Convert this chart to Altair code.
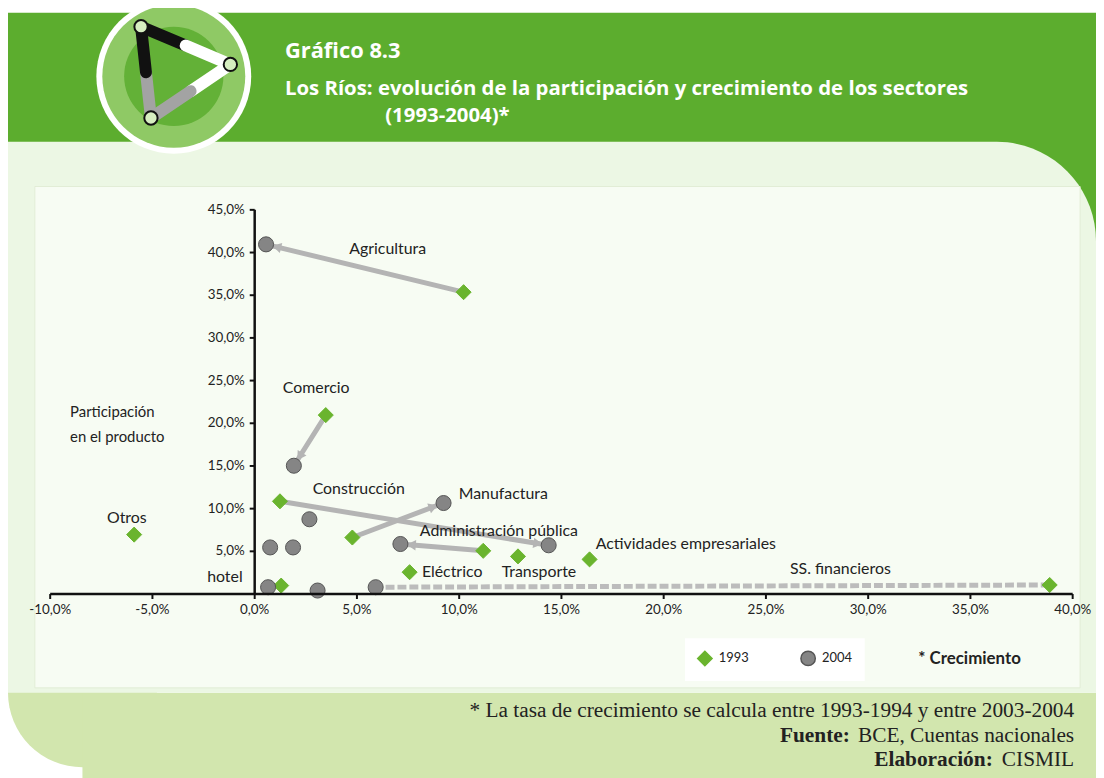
import math
import altair as alt
import pandas as pd

# ---------------- data ----------------
sectors = ["Agricultura", "Comercio", "Construcción", "Manufactura",
           "Administración pública", "Actividades empresariales", "Transporte",
           "Eléctrico", "SS. financieros", "Otros", "Hoteles"]
crec_1993 = [10.24, 3.5, 1.26, 4.8, 11.2, 16.4, 12.9, 7.6, 38.9, -5.87, 1.32]
part_1993 = [35.3, 20.9, 10.8, 6.56, 5.0, 4.0, 4.35, 2.5, 1.0, 6.9, 0.93]
crec_2004 = [0.58, 1.94, 14.4, 9.26, 7.15, 0.78, 1.9, 3.1, 5.94, 2.7, 0.68]
part_2004 = [40.9, 14.97, 5.65, 10.6, 5.8, 5.4, 5.4, 0.35, 0.74, 8.7, 0.74]

arrow_sectors = ["Agricultura", "Comercio", "Construcción", "Manufactura",
                 "Administración pública"]
dashed_sectors = ["SS. financieros"]

label_text = ["Agricultura", "Comercio", "Construcción", "Manufactura",
              "Administración pública", "Actividades empresariales", "Eléctrico",
              "Transporte", "SS. financieros", "Otros", "hotel"]
label_x = [4.65, 1.4, 2.86, 10.0, 8.1, 16.7, 8.2, 12.1, 26.2, -7.2, -2.3]
label_y = [40.3, 24.1, 12.2, 11.6, 7.3, 5.8, 2.5, 2.5, 2.9, 8.9, 1.95]

years = ["1993", "2004"]
x_ticks = [-10, -5, 0, 5, 10, 15, 20, 25, 30, 35, 40]
y_ticks = [5, 10, 15, 20, 25, 30, 35, 40, 45]

title_main = "Gráfico 8.3"
title_sub = "Los Ríos:  evolución de la participación y crecimiento de los sectores"
title_sub2 = "(1993-2004)*"
y_title = ["Participación", "en el producto"]
note_crec = "* Crecimiento"
foot_1 = "*  La tasa de crecimiento se calcula entre 1993-1994 y entre 2003-2004"
foot_2a, foot_2b = "Fuente:", "BCE, Cuentas nacionales"
foot_3a, foot_3b = "Elaboración:", "CISMIL"

# ---------------- styles ----------------
W, H = 1030, 387
X_DOM, Y_DOM = [-10, 40], [0, 45]
PX_X = W / (X_DOM[1] - X_DOM[0])
PX_Y = H / (Y_DOM[1] - Y_DOM[0])
GREEN = "#6ab42e"
GRAY = "#858585"
LINE_GRAY = "#b4b4b4"
BAND = "#5cad2e"
LIGHT = "#ecf7e4"
BOX = "#f7fcf3"
BOTTOM = "#d2e6ae"
FONT = "Lato"
HFONT = "Open Sans"
SERIF = "Liberation Serif"

xs = alt.Scale(domain=X_DOM, nice=False, zero=False)
ys = alt.Scale(domain=Y_DOM, nice=False, zero=False)
LBL = "replace(replace(format(datum.value, '.1f'), '.', ','), '\u2212', '-') + '%'"

xaxis = alt.Axis(values=x_ticks, labelExpr=LBL, title=None, grid=False, zindex=1,
                 domainColor="#111", domainWidth=2.5, tickColor="#111", tickWidth=2,
                 tickSize=5, labelFont=FONT, labelFontSize=13.5, labelColor="#222",
                 labelPadding=4, labelFlush=False)
yaxis = alt.Axis(values=y_ticks, labelExpr=LBL, title=y_title, titleAngle=0,
                 titleX=-186, titleY=197, titleAlign="left", titleBaseline="top",
                 titleFont=FONT, titleFontSize=15, titleFontWeight="normal",
                 titleColor="#222", titleLineHeight=25, offset=-206, grid=False,
                 zindex=1, domainColor="#111", domainWidth=2.5, tickColor="#111",
                 tickWidth=2, tickSize=5, labelFont=FONT, labelFontSize=13.5,
                 labelColor="#222", labelPadding=5)

one = pd.DataFrame({"k": [0]})


def rect(x, x2, y, y2, color, **kw):
    return alt.Chart(one).mark_rect(color=color, **kw).encode(
        x=alt.value(x), x2=alt.value(x2), y=alt.value(y), y2=alt.value(y2))


def dot(x, y, size, color, **kw):
    return alt.Chart(one).mark_point(shape="circle", filled=True, opacity=1,
                                     size=size, color=color, **kw).encode(
        x=alt.value(x), y=alt.value(y))


def seg(x, y, x2, y2, color, w=12):
    return alt.Chart(one).mark_rule(color=color, strokeWidth=w, strokeCap="round").encode(
        x=alt.value(x), y=alt.value(y), x2=alt.value(x2), y2=alt.value(y2))


def txt(s, x, y, **kw):
    return alt.Chart(one).mark_text(text=s, **kw).encode(x=alt.value(x), y=alt.value(y))


# ---------------- background / frame ----------------
bg = [
    rect(-42, 1054, -198, 52, BAND),
    dot(33, 487, 22500, BOTTOM),
    rect(33, 1054, 487, 600, BOTTOM),
    rect(-42, 1054, -68, 487, LIGHT, cornerRadiusTopRight=100),
    rect(-15, 1038, -23, 482, BOX, stroke="#e2edd6", strokeWidth=1),
]

# logo
A, B, C = (92, -184), (182, -146), (102, -92)
mAB = ((A[0] + B[0]) / 2, (A[1] + B[1]) / 2)
mBC = ((B[0] + C[0]) / 2, (B[1] + C[1]) / 2)
mCA = ((C[0] + A[0]) / 2, (C[1] + A[1]) / 2)
logo = [
    dot(125, -134, 24336, "white"),
    dot(125, -134, 20736, "#8fc965"),
    dot(125, -134, 10000, "#63b137"),
    seg(*A, *mAB, "#111"), seg(*mAB, *B, "white"),
    seg(*B, *mBC, "white"), seg(*mBC, *C, "#a3a3a3"),
    seg(*C, *mCA, "#a3a3a3"), seg(*mCA, *A, "#111"),
    dot(A[0], A[1], 180, "#d6eec0", stroke="#111", strokeWidth=2),
    dot(B[0], B[1], 180, "#d6eec0", stroke="#111", strokeWidth=2),
    dot(C[0], C[1], 180, "#d6eec0", stroke="#111", strokeWidth=2),
]

# ---------------- data layers ----------------
pts = pd.DataFrame({
    "Sector": sectors * 2,
    "Año": [years[0]] * len(sectors) + [years[1]] * len(sectors),
    "Crecimiento": crec_1993 + crec_2004,
    "Participación": part_1993 + part_2004,
})

rows = []
for s in arrow_sectors + dashed_sectors:
    i = sectors.index(s)
    x1, y1, x2, y2 = crec_1993[i], part_1993[i], crec_2004[i], part_2004[i]
    dxs, dys = (x2 - x1) * PX_X, -(y2 - y1) * PX_Y
    L = math.hypot(dxs, dys)
    ux, uy = dxs / L, dys / L
    ang = math.degrees(math.atan2(dxs, -dys)) % 360
    rows.append(dict(Sector=s, x1=x1, y1=y1, x2=x2, y2=y2,
                     ax=x2 - ux * 11 / PX_X, ay=y2 + uy * 11 / PX_Y, ang=ang,
                     dashed=s in dashed_sectors))
lines = pd.DataFrame(rows)

X1 = alt.X("x1:Q", scale=xs, axis=xaxis)
Y1 = alt.Y("y1:Q", scale=ys, axis=yaxis)

solid = alt.Chart(lines[~lines.dashed]).mark_rule(
    color=LINE_GRAY, strokeWidth=5, strokeCap="round").encode(
    x=X1, y=Y1, x2="x2:Q", y2="y2:Q")
dashed = alt.Chart(lines[lines.dashed]).mark_rule(
    color="#bcbcbc", strokeWidth=5, strokeDash=[9, 3]).encode(
    x=X1, y=Y1, x2="x2:Q", y2="y2:Q")
arrows = alt.Chart(lines[~lines.dashed]).mark_point(
    shape="triangle-up", filled=True, opacity=1, size=110, color=LINE_GRAY).encode(
    x=alt.X("ax:Q", scale=xs, axis=xaxis), y=alt.Y("ay:Q", scale=ys, axis=yaxis),
    angle=alt.Angle("ang:Q", scale=None))

legend = alt.Legend(title=None, orient="none", legendX=640, legendY=432,
                    direction="horizontal", fillColor="white", padding=12,
                    columnPadding=48, labelFont=FONT, labelFontSize=13,
                    labelColor="#222", symbolSize=210, labelOffset=6)
points = alt.Chart(pts).mark_point(filled=True, opacity=1, size=230, strokeWidth=1).encode(
    x=alt.X("Crecimiento:Q", scale=xs, axis=xaxis),
    y=alt.Y("Participación:Q", scale=ys, axis=yaxis),
    color=alt.Color("Año:N", scale=alt.Scale(domain=years, range=[GREEN, GRAY]), legend=legend),
    shape=alt.Shape("Año:N", scale=alt.Scale(domain=years, range=["diamond", "circle"]), legend=legend),
    stroke=alt.Stroke("Año:N", scale=alt.Scale(domain=years, range=[GREEN, "#555555"]), legend=legend),
)

labels_df = pd.DataFrame({"label": label_text, "lx": label_x, "ly": label_y})
labels = alt.Chart(labels_df).mark_text(
    align="left", baseline="middle", font=FONT, fontSize=16, color="#222").encode(
    x=alt.X("lx:Q", scale=xs, axis=xaxis), y=alt.Y("ly:Q", scale=ys, axis=yaxis),
    text="label:N")

# ---------------- texts ----------------
FS = 21.5
texts = [
    txt(title_main, 237, -152, align="left", baseline="alphabetic", font=HFONT,
        fontSize=22, fontWeight="bold", color="white"),
    txt(title_sub, 237, -115, align="left", baseline="alphabetic", font=HFONT,
        fontSize=20.5, fontWeight="bold", color="white"),
    txt(title_sub2, 338, -88, align="left", baseline="alphabetic", font=HFONT,
        fontSize=20.5, fontWeight="bold", color="white"),
    txt(note_crec, 875, 453, align="left", baseline="middle", font=FONT,
        fontSize=17, fontWeight="bold", color="#222"),
    txt(foot_1, 1032, 505, align="right", baseline="middle", font=SERIF,
        fontSize=FS, color="#222"),
    txt(foot_2b, 1032, 531, align="right", baseline="middle", font=SERIF,
        fontSize=FS, color="#222"),
    txt(foot_2a, 806, 531, align="right", baseline="middle", font=SERIF,
        fontSize=FS, fontWeight="bold", color="#222"),
    txt(foot_3b, 1032, 555, align="right", baseline="middle", font=SERIF,
        fontSize=FS, color="#222"),
    txt(foot_3a, 950, 555, align="right", baseline="middle", font=SERIF,
        fontSize=FS, fontWeight="bold", color="#222"),
]

chart = alt.layer(*bg, *logo, solid, dashed, arrows, points, labels, *texts).properties(
    width=W, height=H,
    padding={"left": 42, "top": 200, "right": 24, "bottom": 183},
    autosize=alt.AutoSizeParams(type="none"),
    background="white",
).configure_view(stroke=None)

chart.save("out.html", embed_options={"renderer": "svg", "actions": False})
